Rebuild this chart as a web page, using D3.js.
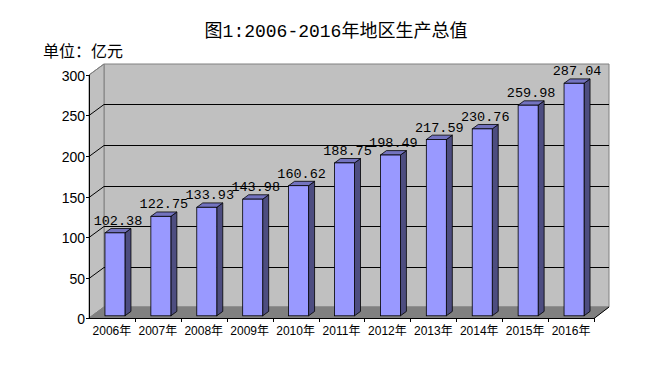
<!DOCTYPE html>
<html>
<head>
<meta charset="utf-8">
<script src="https://cdn.jsdelivr.net/npm/d3@7"></script>
<style>
  body { margin: 0; background: #fff; }
  text { font-family: "Liberation Sans", "Noto Sans CJK SC", sans-serif; }
</style>
</head>
<body>
<script>
var years = ["2006年", "2007年", "2008年", "2009年", "2010年", "2011年",
             "2012年", "2013年", "2014年", "2015年", "2016年"];
var gdp = [102.38, 122.75, 133.93, 143.98, 160.62, 188.75, 198.49, 217.59, 230.76, 259.98, 287.04];
var yTicks = [0, 50, 100, 150, 200, 250, 300];

var width = 671, height = 386;
var depthX = 15, depthY = -11;   // offset of back wall from front plane

var svg = d3.select("body").append("svg")
    .attr("width", width)
    .attr("height", height);

var x = d3.scaleBand().domain(years).range([89, 594]);
var y = d3.scaleLinear().domain([0, 300]).range([318, 75]);

var x0 = x.range()[0], x1 = x.range()[1];
var yb = y(0), yt = y(300);

function pts(a) { return a.map(function(p) { return p.join(","); }).join(" "); }

// back wall
svg.append("polygon")
    .attr("points", pts([[x0 + depthX, yt + depthY], [x1 + depthX, yt + depthY],
                         [x1 + depthX, yb + depthY], [x0 + depthX, yb + depthY]]))
    .attr("fill", "#c0c0c0").attr("stroke", "#808080");
// left wall
svg.append("polygon")
    .attr("points", pts([[x0, yt], [x0 + depthX, yt + depthY],
                         [x0 + depthX, yb + depthY], [x0, yb]]))
    .attr("fill", "#c0c0c0").attr("stroke", "#808080");
// floor
svg.append("polygon")
    .attr("points", pts([[x0, yb], [x0 + depthX, yb + depthY],
                         [x1 + depthX, yb + depthY], [x1, yb]]))
    .attr("fill", "#808080").attr("stroke", "#808080");

// gridlines
var grid = svg.append("g").attr("stroke", "#000").attr("stroke-width", 1);
yTicks.filter(function(d) { return d > 0 && d < 300; }).forEach(function(d) {
  var yy = Math.round(y(d)) + 0.5;
  grid.append("line").attr("x1", x0 + depthX).attr("x2", x1 + depthX)
      .attr("y1", yy + depthY).attr("y2", yy + depthY);
  grid.append("line").attr("x1", x0).attr("x2", x0 + depthX)
      .attr("y1", yy).attr("y2", yy + depthY);
});
svg.append("line").attr("x1", x0).attr("x2", x0 + depthX)
    .attr("y1", yt).attr("y2", yt + depthY).attr("stroke", "#808080");

// bars
var barW = 20;
var fFront = 0.2, fBack = 0.6;
var bars = svg.append("g").selectAll("g").data(gdp).enter().append("g");

function fx(i) { return x(years[i]) + (x.bandwidth() - barW) / 2 + depthX * fFront; }
function fy(v) { return y(v) + depthY * fFront; }
var ddx = depthX * (fBack - fFront), ddy = depthY * (fBack - fFront);

bars.append("polygon") // side
    .attr("points", function(d, i) {
      var l = fx(i) + barW, b = fy(0), t = fy(d);
      return pts([[l, b], [l, t], [l + ddx, t + ddy], [l + ddx, b + ddy]]);
    })
    .attr("fill", "#4d4d80").attr("stroke", "#000").attr("stroke-width", 0.8);
bars.append("polygon") // top
    .attr("points", function(d, i) {
      var l = fx(i), t = fy(d);
      return pts([[l, t], [l + barW, t], [l + barW + ddx, t + ddy], [l + ddx, t + ddy]]);
    })
    .attr("fill", "#7373bf").attr("stroke", "#000").attr("stroke-width", 0.8);
bars.append("rect") // front
    .attr("x", function(d, i) { return fx(i); })
    .attr("y", function(d) { return fy(d); })
    .attr("width", barW)
    .attr("height", function(d) { return fy(0) - fy(d); })
    .attr("fill", "#9999ff").attr("stroke", "#000").attr("stroke-width", 0.8);

// data labels
svg.append("g").selectAll("text").data(gdp).enter().append("text")
    .attr("x", function(d, i) { return fx(i) + barW / 2 + 3; })
    .attr("y", function(d) { return fy(d) - 8; })
    .attr("text-anchor", "middle")
    .style("font-family", "'Liberation Mono', monospace")
    .style("font-size", "13.5px")
    .text(function(d) { return d.toFixed(2); });

// y axis
svg.append("line").attr("x1", x0 + 0.5).attr("x2", x0 + 0.5)
    .attr("y1", yt).attr("y2", yb).attr("stroke", "#000");
var yAx = svg.append("g");
yTicks.forEach(function(d) {
  var yy = Math.round(y(d)) + 0.5;
  yAx.append("line").attr("x1", x0 - 3).attr("x2", x0).attr("y1", yy).attr("y2", yy)
      .attr("stroke", "#000");
  yAx.append("text").attr("x", x0 - 4).attr("y", yy + 5)
      .attr("text-anchor", "end").style("font-size", "14px").text(d);
});

// x axis
svg.append("line").attr("x1", x0).attr("x2", x1)
    .attr("y1", yb + 0.5).attr("y2", yb + 0.5).attr("stroke", "#000");
svg.append("line").attr("x1", x1).attr("x2", x1 + depthX)
    .attr("y1", yb + 0.5).attr("y2", yb + depthY).attr("stroke", "#000");
var xAx = svg.append("g");
years.forEach(function(c, i) {
  var xx = Math.round(x(c) + x.bandwidth()) + 0.5;
  xAx.append("line").attr("x1", xx).attr("x2", xx).attr("y1", yb).attr("y2", yb + 4)
      .attr("stroke", "#000");
  xAx.append("text").attr("x", x(c) + x.bandwidth() / 2).attr("y", yb + 17)
      .attr("text-anchor", "middle").style("font-size", "12px").text(c);
});

// titles
svg.append("text").attr("x", 336).attr("y", 37).attr("text-anchor", "middle")
    .style("font-family", "'Liberation Mono', 'Noto Sans CJK SC', monospace").style("font-size", "18px")
    .text("图1:2006-2016年地区生产总值");
svg.append("text").attr("x", 43).attr("y", 57)
    .style("font-family", "'Noto Sans CJK SC', sans-serif").style("font-size", "16px")
    .text("单位：亿元");
</script>
</body>
</html>
